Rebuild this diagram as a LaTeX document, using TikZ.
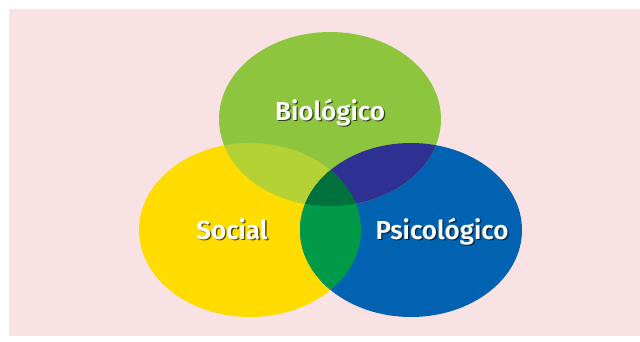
\documentclass[tikz,border=0pt]{standalone}
\usepackage{fontspec}
\newfontfamily\lblfont{Fira Sans}[BoldFont={Fira Sans SemiBold}]
\definecolor{bgpink}{RGB}{248,226,228}
\definecolor{cgreen}{RGB}{141,197,63}
\definecolor{cyellow}{RGB}{255,220,0}
\definecolor{cblue}{RGB}{0,98,176}
\definecolor{cgy}{RGB}{181,210,52}
\definecolor{cgb}{RGB}{46,48,146}
\definecolor{cyb}{RGB}{0,154,72}
\definecolor{call}{RGB}{0,112,60}
\tikzset{
  ell/.style={x radius=111, y radius=87},
  lbl/.style={font=\lblfont\bfseries\fontsize{26}{26}\selectfont, text=white, inner sep=0pt, anchor=base},
  lblsh/.style={lbl, text=black, text opacity=0.65}
}
\begin{document}
\begin{tikzpicture}[x=1pt,y=-1pt]
\useasboundingbox (0,0) rectangle (640,341);
\fill[white] (0,0) rectangle (640,341);
\fill[bgpink] (9,9) rectangle (640,336);
\coordinate (gc) at (330,119);
\coordinate (yc) at (250,230);
\coordinate (bc) at (411,230);
% base ellipses
\fill[cyellow] (yc) ellipse [ell];
\fill[cblue] (bc) ellipse [ell];
\fill[cgreen] (gc) ellipse [ell];
% green & yellow
\begin{scope}
  \clip (gc) ellipse [ell];
  \fill[cgy] (yc) ellipse [ell];
  \fill[cgb] (bc) ellipse [ell];
\end{scope}
% yellow & blue
\begin{scope}
  \clip (yc) ellipse [ell];
  \fill[cyb] (bc) ellipse [ell];
  \clip (bc) ellipse [ell];
  \fill[call] (gc) ellipse [ell];
\end{scope}
% labels
\node[lblsh] (biosh) at (331.3,121.3) {Biológico};
\node[lbl] (bio) at (330,120) {Biológico};
\node[lblsh] (socsh) at (233.3,240.8) {Social};
\node[lbl] (soc) at (232,239.5) {Social};
\node[lblsh] (psish) at (443.3,240.3) {Psicológico};
\node[lbl] (psi) at (442,239) {Psicológico};
\end{tikzpicture}
\end{document}
